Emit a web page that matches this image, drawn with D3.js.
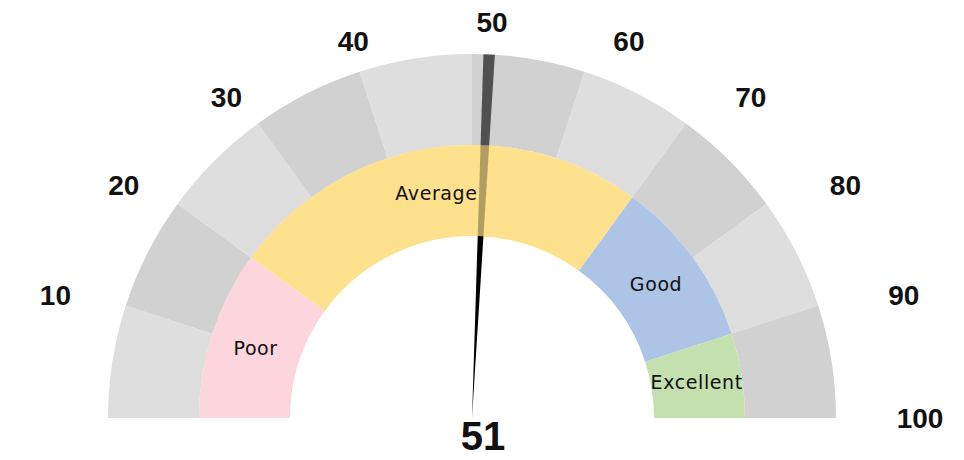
<!DOCTYPE html>
<html>
<head>
<meta charset="utf-8">
<script src="https://cdn.jsdelivr.net/npm/d3@7/dist/d3.min.js"></script>
<style>
  html, body { margin: 0; padding: 0; background: #ffffff; }
  svg { display: block; }
</style>
</head>
<body>
<svg id="gauge" width="964" height="460"></svg>
<script>
// Scale ring: ten equal steps from 0 to 100
const tickValues = [10, 20, 30, 40, 50, 60, 70, 80, 90, 100];
const tickLabels = ["10", "20", "30", "40", "50", "60", "70", "80", "90", "100"];

// Rating bands
const bandNames = ["Poor", "Average", "Good", "Excellent"];
const bandStarts = [0, 20, 70, 90];
const bandEnds = [20, 70, 90, 100];
const bandColors = ["#fdd5dc", "#fde18c", "#adc4e6", "#c4e0ae"];

// Current reading
const needleValue = 51;
const needleWidth = 1;

const svg = d3.select("#gauge");
const cx = 472, cy = 418;
const rOuter = 364, rMid = 273, rInner = 182;

const angle = d3.scaleLinear().domain([0, 100]).range([-Math.PI / 2, Math.PI / 2]);
const g = svg.append("g").attr("transform", `translate(${cx},${cy})`);

// Outer scale ring, alternating grey steps
const steps = tickValues.map((v, i) => ({ start: i === 0 ? 0 : tickValues[i - 1], end: v, i }));
const stepArc = d3.arc().innerRadius(rMid).outerRadius(rOuter);
g.selectAll("path.step").data(steps).join("path")
  .attr("class", "step")
  .attr("d", d => stepArc({ startAngle: angle(d.start), endAngle: angle(d.end) }))
  .attr("fill", d => d.i % 2 === 0 ? "#dedede" : "#d1d1d1");

// Inner band ring
const bands = bandNames.map((n, i) => ({ name: n, start: bandStarts[i], end: bandEnds[i], color: bandColors[i] }));
const bandArc = d3.arc().innerRadius(rInner).outerRadius(rMid);
g.selectAll("path.band").data(bands).join("path")
  .attr("class", "band")
  .attr("d", d => bandArc({ startAngle: angle(d.start), endAngle: angle(d.end) }))
  .attr("fill", d => d.color);

g.selectAll("text.band").data(bands).join("text")
  .attr("class", "band")
  .attr("x", d => bandArc.centroid({ startAngle: angle(d.start), endAngle: angle(d.end) })[0])
  .attr("y", d => bandArc.centroid({ startAngle: angle(d.start), endAngle: angle(d.end) })[1])
  .attr("text-anchor", "middle")
  .attr("dominant-baseline", "central")
  .attr("font-family", "'DejaVu Sans', 'Noto Sans', sans-serif")
  .attr("font-size", 19)
  .attr("letter-spacing", 0.6)
  .attr("fill", "#111")
  .text(d => d.name);

// Needle: a thin wedge, shaded differently over each ring
const needleParts = [
  { r0: 0, r1: rInner, opacity: 1 },
  { r0: rInner, r1: rMid, opacity: 0.3 },
  { r0: rMid, r1: rOuter, opacity: 0.62 }
];
g.selectAll("path.needle").data(needleParts).join("path")
  .attr("class", "needle")
  .attr("d", d => d3.arc().innerRadius(d.r0).outerRadius(d.r1)({
    startAngle: angle(needleValue), endAngle: angle(needleValue + needleWidth)
  }))
  .attr("fill", "#000")
  .attr("fill-opacity", d => d.opacity);

// Step labels around the outside
g.selectAll("text.tick").data(tickValues).join("text")
  .attr("class", "tick")
  .attr("x", v => 2 + 446 * Math.sin(angle(v)) + 18 * Math.cos(angle(v)))
  .attr("y", v => -396 * Math.cos(angle(v)))
  .attr("text-anchor", "middle")
  .attr("dominant-baseline", "central")
  .attr("font-family", "'Liberation Sans', Arial, sans-serif")
  .attr("font-weight", "bold")
  .attr("font-size", 28)
  .attr("fill", "#111")
  .text((v, i) => tickLabels[i]);

// Reading
g.append("text")
  .attr("x", 11)
  .attr("y", 32)
  .attr("text-anchor", "middle")
  .attr("font-family", "'Liberation Sans Narrow', 'Liberation Sans', Arial, sans-serif")
  .attr("font-weight", "bold")
  .attr("font-size", 40)
  .attr("fill", "#111")
  .text(needleValue);
</script>
</body>
</html>
